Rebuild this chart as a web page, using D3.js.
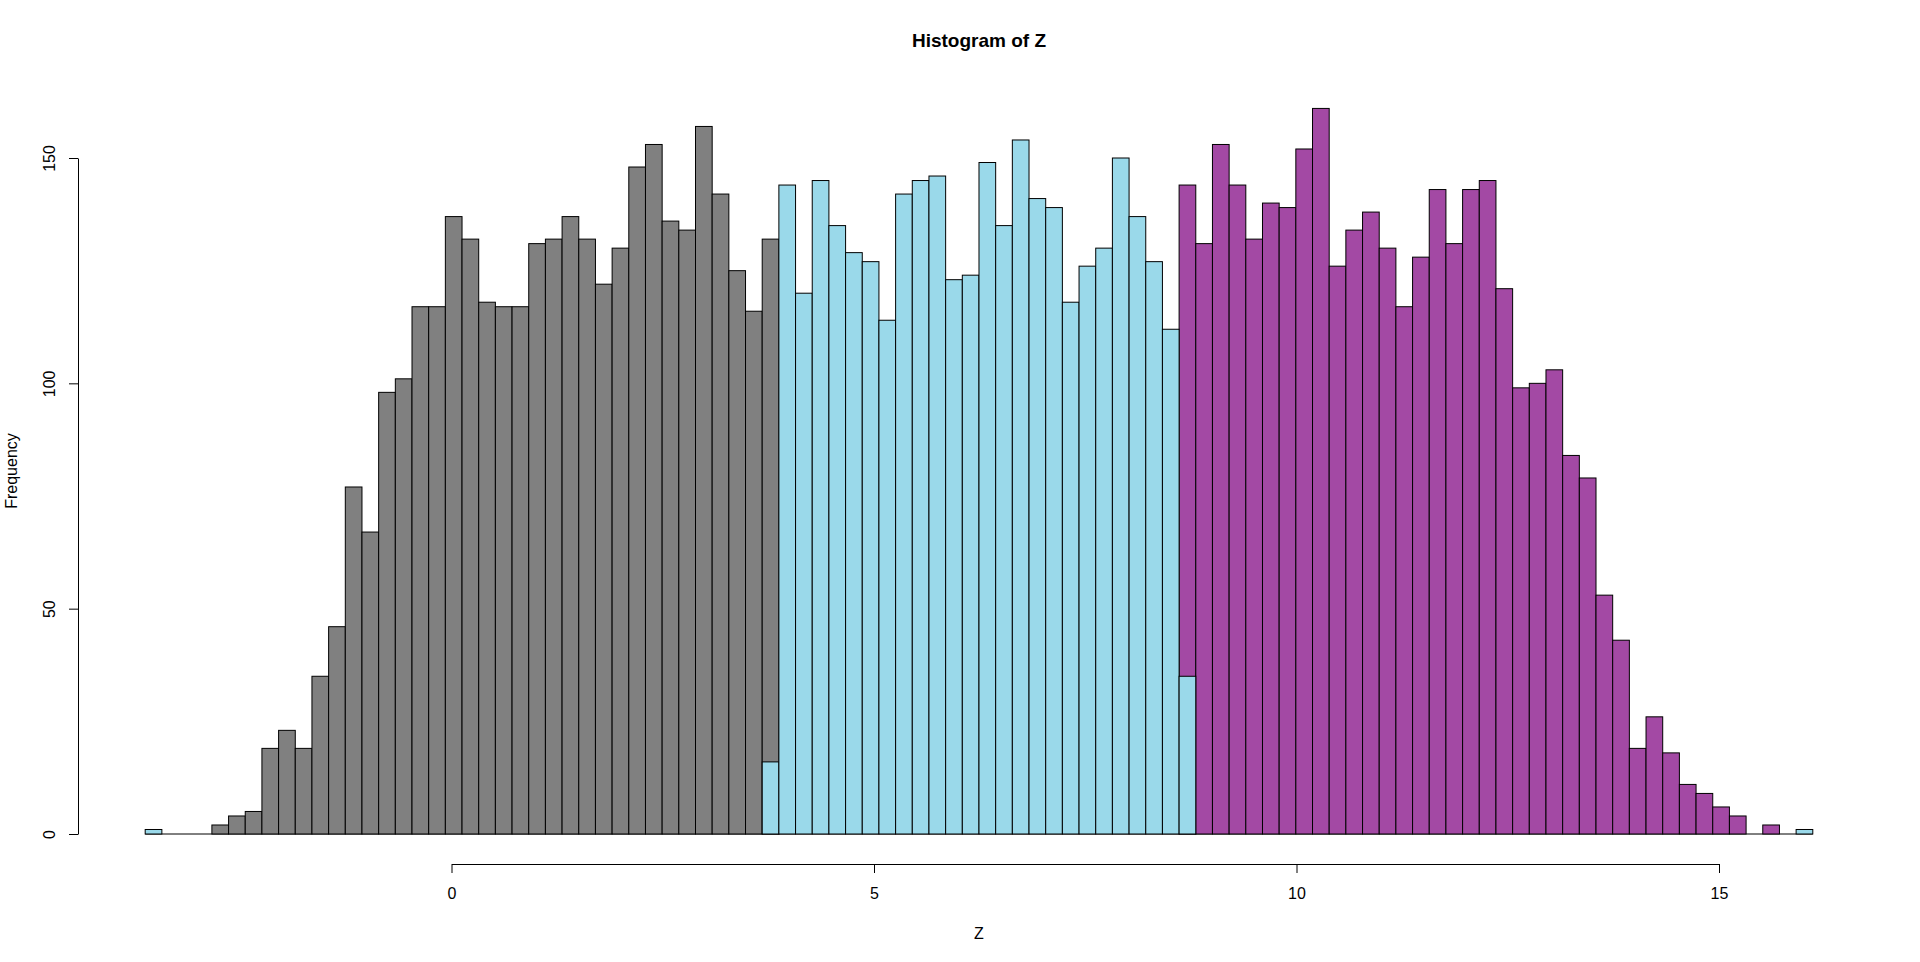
<!DOCTYPE html>
<html>
<head>
<meta charset="utf-8">
<title>Histogram of Z</title>
<script src="https://cdn.jsdelivr.net/npm/d3@7"></script>
<style>
    body { margin: 0; background: #fff; }
    svg { display: block; font-family: "Liberation Sans", Arial, sans-serif; }
</style>
</head>
<body>
<div id="chart"></div>
<script>
// Границы гистограммы: 100 одинаковых бинов от min(Z) до max(Z)
const zMin = -3.625;
const zMax = 16.11;
const nBins = 100;

// Частоты по бинам для трёх групп (одни и те же breaks)
const grayCounts = [
    0, 0, 0, 0, 2, 4, 5, 19, 23, 19,
    35, 46, 77, 67, 98, 101, 117, 117, 137, 132,
    118, 117, 117, 131, 132, 137, 132, 122, 130, 148,
    153, 136, 134, 157, 142, 125, 116, 132, 0, 0,
    0, 0, 0, 0, 0, 0, 0, 0, 0, 0,
    0, 0, 0, 0, 0, 0, 0, 0, 0, 0,
    0, 0, 0, 0, 0, 0, 0, 0, 0, 0,
    0, 0, 0, 0, 0, 0, 0, 0, 0, 0,
    0, 0, 0, 0, 0, 0, 0, 0, 0, 0,
    0, 0, 0, 0, 0, 0, 0, 0, 0, 0
];
const blueCounts = [
    1, 0, 0, 0, 0, 0, 0, 0, 0, 0,
    0, 0, 0, 0, 0, 0, 0, 0, 0, 0,
    0, 0, 0, 0, 0, 0, 0, 0, 0, 0,
    0, 0, 0, 0, 0, 0, 0, 16, 144, 120,
    145, 135, 129, 127, 114, 142, 145, 146, 123, 124,
    149, 135, 154, 141, 139, 118, 126, 130, 150, 137,
    127, 112, 35, 0, 0, 0, 0, 0, 0, 0,
    0, 0, 0, 0, 0, 0, 0, 0, 0, 0,
    0, 0, 0, 0, 0, 0, 0, 0, 0, 0,
    0, 0, 0, 0, 0, 0, 0, 0, 0, 1
];
const purpleCounts = [
    0, 0, 0, 0, 0, 0, 0, 0, 0, 0,
    0, 0, 0, 0, 0, 0, 0, 0, 0, 0,
    0, 0, 0, 0, 0, 0, 0, 0, 0, 0,
    0, 0, 0, 0, 0, 0, 0, 0, 0, 0,
    0, 0, 0, 0, 0, 0, 0, 0, 0, 0,
    0, 0, 0, 0, 0, 0, 0, 0, 0, 0,
    0, 0, 144, 131, 153, 144, 132, 140, 139, 152,
    161, 126, 134, 138, 130, 117, 128, 143, 131, 143,
    145, 121, 99, 100, 103, 84, 79, 53, 43, 19,
    26, 18, 11, 9, 6, 4, 0, 2, 0, 0
];

const xTicks = [0, 5, 10, 15];
const yTicks = [0, 50, 100, 150];

const width = 1920;
const height = 962;

const svg = d3.select('#chart').append('svg')
    .attr('width', width)
    .attr('height', height);

// Scales
const xScale = d3.scaleLinear().domain([0, 15]).range([451.5, 1719]);
const yScale = d3.scaleLinear().domain([0, 150]).range([834, 158]);

const edges = d3.range(nBins + 1).map(i => zMin + i * (zMax - zMin) / nBins);

// Порядок рисования как в R: фиолетовый, серый, голубой поверх
const series = [
    { counts: purpleCounts, color: '#a349a4' },
    { counts: grayCounts, color: '#808080' },
    { counts: blueCounts, color: '#9ad9ea' }
];

// Нулевые бины в R рисуются линией по основанию
svg.append('line')
    .attr('x1', xScale(edges[0]))
    .attr('x2', xScale(edges[nBins]))
    .attr('y1', yScale(0))
    .attr('y2', yScale(0))
    .attr('stroke', '#000')
    .attr('stroke-width', 1);

series.forEach(s => {
    const bins = s.counts
        .map((c, i) => ({ x0: edges[i], x1: edges[i + 1], count: c }))
        .filter(d => d.count > 0);

    svg.append('g')
        .selectAll('rect')
        .data(bins)
        .join('rect')
        .attr('x', d => xScale(d.x0))
        .attr('width', d => xScale(d.x1) - xScale(d.x0))
        .attr('y', d => yScale(d.count))
        .attr('height', d => yScale(0) - yScale(d.count))
        .attr('fill', s.color)
        .attr('stroke', '#000')
        .attr('stroke-width', 1);
});

// X Axis
const xAxis = svg.append('g')
    .attr('transform', 'translate(0,864)')
    .call(d3.axisBottom(xScale).tickValues(xTicks).tickSize(9).tickSizeOuter(0).tickPadding(0));
xAxis.select('.domain').attr('stroke-width', 1);
xAxis.selectAll('text')
    .attr('y', 35)
    .attr('dy', 0)
    .style('font-size', '16px')
    .style('font-family', '"Liberation Sans", Arial, sans-serif')
    .attr('fill', '#000');

// Y Axis
const yAxis = svg.append('g')
    .attr('transform', 'translate(78,0)')
    .call(d3.axisLeft(yScale).tickValues(yTicks).tickSize(9).tickSizeOuter(0));
yAxis.selectAll('text')
    .attr('transform', 'rotate(-90)')
    .attr('x', 0)
    .attr('y', -23)
    .attr('dy', 0)
    .style('text-anchor', 'middle')
    .style('font-size', '16px')
    .style('font-family', '"Liberation Sans", Arial, sans-serif')
    .attr('fill', '#000');

// Подписи
svg.append('text')
    .attr('x', 979)
    .attr('y', 46.5)
    .style('text-anchor', 'middle')
    .style('font-size', '19px')
    .style('font-weight', 'bold')
    .text('Histogram of Z');

svg.append('text')
    .attr('x', 979)
    .attr('y', 939)
    .style('text-anchor', 'middle')
    .style('font-size', '16px')
    .text('Z');

svg.append('text')
    .attr('transform', 'rotate(-90)')
    .attr('x', -471)
    .attr('y', 17)
    .style('text-anchor', 'middle')
    .style('font-size', '16px')
    .text('Frequency');
</script>
</body>
</html>
